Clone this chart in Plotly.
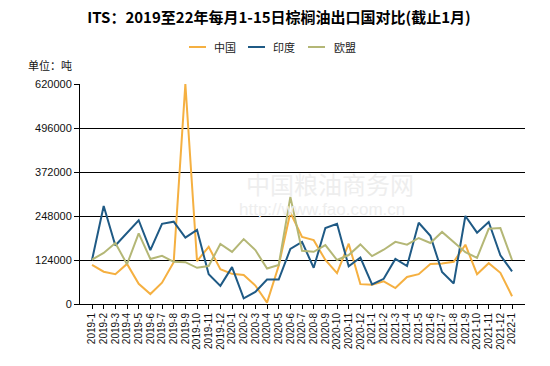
import plotly.graph_objects as go

months = [f"{y}-{m}" for y in (2019, 2020, 2021) for m in range(1, 13)] + ["2022-1"]

china = [110000, 91000, 84000, 113000, 57000, 28000, 60000, 118000, 620000, 121000,
         161000, 98000, 85000, 82000, 52000, 4000, 108000, 258000, 189000, 180000,
         124000, 87000, 170000, 56000, 54000, 64000, 45000, 76000, 84000, 113000,
         114000, 119000, 167000, 84000, 115000, 88000, 22000]
india = [124000, 276000, 165000, 201000, 236000, 152000, 226000, 232000, 187000, 209000,
         84000, 51000, 104000, 16000, 34000, 69000, 69000, 155000, 175000, 102000,
         214000, 226000, 106000, 131000, 55000, 71000, 127000, 107000, 229000, 192000,
         90000, 58000, 248000, 201000, 231000, 137000, 92000]
eu = [125000, 144000, 172000, 112000, 199000, 127000, 136000, 119000, 118000, 102000,
      107000, 169000, 147000, 183000, 152000, 100000, 110000, 302000, 150000, 147000,
      166000, 124000, 138000, 168000, 135000, 153000, 175000, 167000, 186000, 172000,
      203000, 174000, 146000, 130000, 212000, 214000, 124000]

series_names = ["中国", "印度", "欧盟"]
series_colors = ["#F5B041", "#1F5A85", "#B4B776"]
y_ticks = [0, 124000, 248000, 372000, 496000, 620000]

font_cjk = "Noto Sans CJK SC"

PL, PR, PT, PB = 80, 525, 84, 304

fig = go.Figure()
for name, vals, col in zip(series_names, [china, india, eu], series_colors):
    fig.add_trace(go.Scatter(x=months, y=vals, mode="lines", name=name,
                             line=dict(color=col, width=2), showlegend=False))

fig.update_layout(
    width=550, height=366,
    margin=dict(l=PL, r=550 - PR, t=PT, b=366 - PB, autoexpand=False),
    paper_bgcolor="white", plot_bgcolor="white",
    title=dict(text="<b>ITS：2019至22年每月1-15日棕榈油出口国对比(截止1月)</b>",
               x=279 / 550, xanchor="center",
               y=1 - 18 / 366, yanchor="middle",
               font=dict(family=font_cjk, size=15, color="#000000")),
    font=dict(family="Arial, Liberation Sans, sans-serif", size=11, color="#111"),
    xaxis=dict(type="category", range=[-1.03, 37.11], showgrid=False,
               tickmode="array", tickvals=months, ticktext=months,
               showline=True, linecolor="black", linewidth=1,
               ticks="outside", ticklen=4, tickcolor="black",
               tickangle=-90, tickfont=dict(size=10, color="#111"),
               zeroline=False, fixedrange=True, automargin=False),
    yaxis=dict(range=[0, 620000], tickvals=y_ticks,
               ticktext=[str(v) for v in y_ticks],
               showgrid=True, gridcolor="black", gridwidth=1,
               showline=True, linecolor="black", linewidth=1,
               ticks="outside", ticklen=5, tickcolor="black",
               tickfont=dict(size=11, color="#111"), zeroline=False,
               fixedrange=True, automargin=False),
)

def px_x(p):
    return (p - PL) / (PR - PL)

def px_y(p):
    return (PB - p) / (PB - PT)

legend_items = [(189, 213), (248, 272), (308, 333)]
for (x0, tx), name, col in zip(legend_items, series_names, series_colors):
    fig.add_shape(type="line", xref="paper", yref="paper",
                  x0=px_x(x0), x1=px_x(x0 + 17), y0=px_y(47), y1=px_y(47),
                  line=dict(color=col, width=2))
    fig.add_annotation(xref="paper", yref="paper", x=px_x(tx - 1), y=px_y(47),
                       xanchor="left", yanchor="middle", showarrow=False,
                       text=name, font=dict(family=font_cjk, size=11, color="#222"))

fig.add_annotation(xref="paper", yref="paper", x=px_x(26), y=px_y(65),
                   xanchor="left", yanchor="middle", showarrow=False,
                   text="单位：吨", font=dict(family=font_cjk, size=11, color="#111"))

# faint watermark
fig.add_annotation(xref="paper", yref="paper", x=px_x(330), y=px_y(183),
                   xanchor="center", yanchor="middle", showarrow=False,
                   text="中国粮油商务网", font=dict(family=font_cjk, size=24, color="#eeeeee"))
fig.add_annotation(xref="paper", yref="paper", x=px_x(322), y=px_y(209),
                   xanchor="center", yanchor="middle", showarrow=False,
                   text="http://www.fao.com.cn", font=dict(family="Arial", size=17, color="#eeeeee"))

fig.write_html("out.html", config={"displayModeBar": False},
               post_script="document.body.style.margin='0';")
